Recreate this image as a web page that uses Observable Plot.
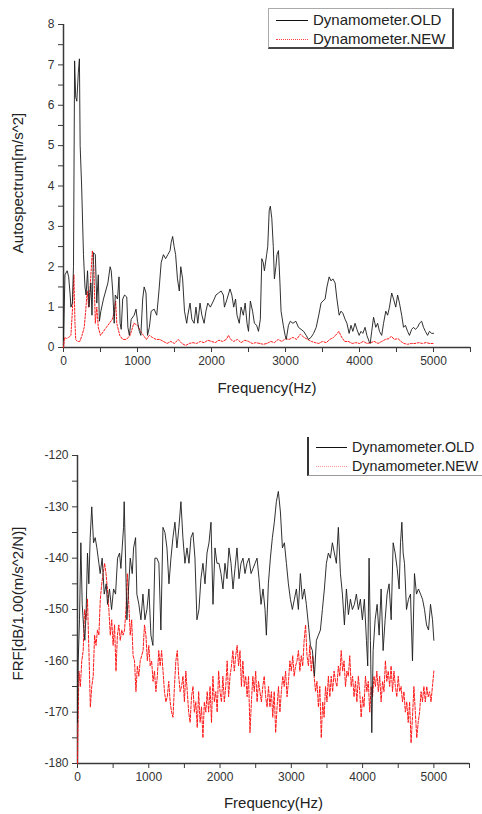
<!DOCTYPE html>
<html><head><meta charset="utf-8">
<script src="https://cdn.jsdelivr.net/npm/d3@7"></script>
<script src="https://cdn.jsdelivr.net/npm/@observablehq/plot@0.6"></script>
<style>
body{margin:0;background:#fff;font-family:"Liberation Sans",Arial,sans-serif;}
#wrap{position:relative;width:482px;height:814px;overflow:hidden;background:#fff;}
#c1{position:absolute;left:0;top:0;}
#c2{position:absolute;left:0;top:400px;}
.box{position:absolute;box-sizing:border-box;}
.smp{position:absolute;height:0;}
.lt{position:absolute;font-size:15px;line-height:18px;color:#222;white-space:nowrap;}
.lt2{font-size:14.3px;}
</style></head><body>
<div id="wrap"><div id="c1"></div><div id="c2"></div>
<div class="box" style="left:268px;top:8px;width:186px;height:41px;border:1px solid #aaa;border-right:2px solid #444;border-bottom:2px solid #444;"></div>
<div class="smp" style="left:276px;top:20px;width:32px;border-top:1.5px solid #111;"></div>
<div class="lt" id="l1a" style="left:313px;top:11px;"></div>
<div class="smp" style="left:276px;top:39px;width:32px;border-top:1px dotted #f44;"></div>
<div class="lt" id="l1b" style="left:313px;top:30px;"></div>
<div class="box" style="left:307px;top:437px;width:200px;height:39px;border-left:2px solid #333;border-bottom:1px solid #999;"></div>
<div class="smp" style="left:316px;top:447px;width:31px;border-top:1.5px solid #111;"></div>
<div class="lt lt2" id="l2a" style="left:352px;top:438px;"></div>
<div class="smp" style="left:316px;top:466px;width:31px;border-top:1px dotted #f99;"></div>
<div class="lt lt2" id="l2b" style="left:352px;top:457px;"></div>
</div>
<script>
const seriesNames = ["Dynamometer.OLD", "Dynamometer.NEW"];
const xLabel = "Frequency(Hz)";
const yLabelTop = "Autospectrum[m/s^2]";
const yLabelBottom = "FRF[dB/1.00(m/s^2/N)]";
const xTicks = [0,500,1000,1500,2000,2500,3000,3500,4000,4500,5000,5500];
const xTickLabels = [0,1000,2000,3000,4000,5000];
const yTicksTop = [0,0.5,1,1.5,2,2.5,3,3.5,4,4.5,5,5.5,6,6.5,7,7.5,8];
const yTickLabelsTop = [0,1,2,3,4,5,6,7,8];
const yTicksBottom = [-180,-175,-170,-165,-160,-155,-150,-145,-140,-135,-130,-125,-120];
const yTickLabelsBottom = [-180,-170,-160,-150,-140,-130,-120];

// Autospectrum, OLD: [frequency Hz, value]
const spectrumOld = [[0,0.2],[20,1.8],[50,1.9],[70,1.75],[90,1.3],[100,1.0],[120,1.1],[135,2.0],[150,7.1],[165,6.2],[180,6.1],[200,6.8],[215,7.15],[225,5.0],[245,4.0],[270,2.3],[290,1.5],[305,1.3],[325,1.9],[345,1.0],[370,1.6],[385,0.8],[405,2.35],[430,2.3],[450,1.1],[470,1.8],[485,0.65],[505,0.9],[540,1.2],[570,1.4],[600,1.6],[630,2.0],[645,1.9],[665,1.4],[685,0.6],[700,1.3],[730,1.2],[750,1.75],[765,0.6],[780,0.45],[800,1.2],[825,1.3],[855,1.25],[870,0.5],[890,0.3],[915,0.7],[955,0.8],[980,0.95],[1000,0.65],[1025,0.4],[1045,0.3],[1070,1.2],[1090,1.5],[1115,1.35],[1135,0.3],[1160,0.5],[1185,0.9],[1225,0.95],[1260,0.8],[1290,1.4],[1320,2.1],[1350,2.3],[1380,2.2],[1410,2.3],[1440,2.4],[1455,2.6],[1475,2.75],[1495,2.5],[1515,2.3],[1540,1.7],[1565,1.4],[1585,2.0],[1610,1.7],[1635,0.9],[1665,0.6],[1680,0.8],[1710,1.1],[1735,0.7],[1765,0.6],[1790,1.0],[1815,0.6],[1845,1.1],[1870,0.8],[1900,0.6],[1925,0.9],[1950,1.1],[1985,1.0],[2025,1.15],[2060,1.3],[2095,1.35],[2130,1.4],[2160,1.3],[2175,1.0],[2210,1.2],[2250,1.45],[2275,1.3],[2300,1.0],[2325,1.2],[2345,0.8],[2375,0.6],[2400,1.0],[2430,0.8],[2455,1.1],[2480,0.6],[2500,0.4],[2525,1.15],[2555,0.9],[2580,0.6],[2610,0.55],[2635,0.4],[2660,0.7],[2680,2.2],[2700,2.1],[2715,1.9],[2745,2.3],[2760,2.5],[2780,3.4],[2795,3.5],[2815,3.2],[2835,2.5],[2850,1.7],[2870,2.0],[2885,2.3],[2905,2.4],[2925,1.6],[2940,0.9],[2970,0.55],[2995,0.3],[3010,0.2],[3040,0.55],[3065,0.65],[3100,0.6],[3140,0.65],[3175,0.5],[3210,0.45],[3245,0.4],[3280,0.3],[3310,0.2],[3345,0.25],[3380,0.35],[3415,0.5],[3455,0.85],[3480,1.1],[3505,1.15],[3535,1.2],[3560,1.5],[3590,1.75],[3615,1.65],[3640,1.7],[3670,1.6],[3695,1.2],[3725,0.8],[3750,0.9],[3775,0.85],[3805,0.7],[3830,0.6],[3860,0.35],[3885,0.55],[3910,0.4],[3940,0.6],[3965,0.45],[3995,0.3],[4020,0.4],[4045,0.35],[4075,0.5],[4100,0.3],[4130,0.15],[4145,0.1],[4165,0.4],[4190,0.75],[4220,0.5],[4245,0.6],[4270,0.4],[4300,0.3],[4325,0.6],[4355,0.9],[4380,0.8],[4405,1.0],[4435,1.35],[4460,1.2],[4490,1.0],[4515,1.3],[4540,1.1],[4570,0.8],[4595,0.5],[4620,0.55],[4650,0.4],[4675,0.3],[4705,0.45],[4730,0.5],[4755,0.45],[4785,0.5],[4810,0.6],[4840,0.65],[4865,0.5],[4890,0.4],[4920,0.3],[4945,0.4],[4975,0.35],[5000,0.35]];

// Autospectrum, NEW
const spectrumNew = [[0,0],[15,0.25],[40,0.22],[70,0.25],[100,0.3],[120,0.9],[140,1.8],[155,0.6],[165,0.2],[190,0.15],[220,0.15],[250,0.3],[280,0.5],[300,0.9],[320,1.4],[340,1.0],[360,1.5],[390,2.4],[410,2.0],[430,0.6],[450,1.0],[470,0.5],[500,0.3],[540,0.4],[580,0.5],[620,0.6],[660,0.7],[690,0.9],[705,1.15],[720,0.6],[760,0.3],[800,0.2],[850,0.2],[900,0.3],[950,0.6],[1000,0.55],[1040,0.4],[1080,0.3],[1120,0.2],[1160,0.3],[1200,0.25],[1250,0.2],[1300,0.2],[1350,0.15],[1400,0.1],[1450,0.15],[1500,0.1],[1550,0.2],[1600,0.1],[1650,0.05],[1700,0.1],[1750,0.12],[1800,0.1],[1850,0.15],[1900,0.12],[1950,0.18],[2000,0.15],[2050,0.12],[2100,0.18],[2150,0.15],[2200,0.2],[2230,0.3],[2260,0.2],[2300,0.15],[2350,0.2],[2400,0.12],[2450,0.18],[2500,0.15],[2550,0.1],[2600,0.12],[2650,0.1],[2700,0.08],[2750,0.1],[2800,0.15],[2850,0.12],[2900,0.2],[2950,0.15],[3000,0.22],[3050,0.2],[3100,0.25],[3150,0.2],[3200,0.33],[3250,0.25],[3300,0.2],[3350,0.15],[3400,0.12],[3450,0.1],[3500,0.15],[3550,0.12],[3600,0.2],[3650,0.25],[3700,0.35],[3720,0.4],[3760,0.25],[3800,0.15],[3850,0.15],[3900,0.1],[3950,0.12],[4000,0.1],[4050,0.15],[4100,0.1],[4150,0.12],[4200,0.15],[4250,0.1],[4300,0.15],[4350,0.2],[4400,0.22],[4430,0.28],[4470,0.2],[4520,0.22],[4560,0.15],[4600,0.1],[4650,0.08],[4700,0.1],[4750,0.1],[4800,0.12],[4850,0.1],[4900,0.12],[4950,0.1],[5000,0.1]];

// FRF, OLD
const frfOld = [[0,-172],[10,-160],[28,-152],[47,-137],[66,-149],[84,-153],[103,-156],[122,-150],[140,-139],[159,-145],[178,-136],[200,-130],[225,-137],[248,-136],[272,-138],[300,-141],[318,-143],[346,-140],[375,-147],[403,-145],[421,-149],[449,-146],[478,-150],[506,-146],[534,-147],[562,-140],[590,-139],[609,-142],[627,-138],[646,-134],[655,-129],[674,-140],[693,-152],[712,-147],[740,-140],[768,-143],[787,-138],[815,-136],[833,-147],[861,-149],[890,-152],[918,-147],[946,-152],[974,-150],[1002,-146],[1030,-155],[1058,-157],[1086,-140],[1114,-140],[1142,-141],[1170,-154],[1199,-134],[1227,-135],[1255,-138],[1283,-145],[1311,-140],[1339,-136],[1367,-133],[1395,-138],[1423,-134],[1451,-129],[1479,-136],[1507,-141],[1536,-138],[1564,-141],[1592,-136],[1620,-135],[1648,-140],[1676,-152],[1704,-150],[1732,-144],[1760,-141],[1789,-145],[1817,-139],[1845,-137],[1873,-133],[1901,-149],[1929,-138],[1957,-141],[1985,-141],[2013,-143],[2041,-146],[2069,-141],[2097,-144],[2125,-138],[2154,-141],[2182,-146],[2210,-142],[2238,-138],[2266,-144],[2294,-141],[2322,-140],[2350,-143],[2378,-141],[2406,-140],[2435,-143],[2463,-142],[2491,-141],[2519,-140],[2547,-144],[2575,-149],[2603,-146],[2631,-150],[2650,-155],[2678,-145],[2706,-140],[2734,-136],[2762,-133],[2790,-129],[2818,-127],[2847,-131],[2875,-138],[2903,-137],[2931,-141],[2959,-145],[2987,-148],[3015,-150],[3043,-148],[3071,-146],[3099,-150],[3127,-143],[3155,-148],[3183,-146],[3211,-149],[3240,-153],[3268,-157],[3296,-158],[3324,-163],[3352,-156],[3380,-155],[3408,-154],[3436,-150],[3464,-146],[3492,-141],[3520,-139],[3548,-140],[3576,-137],[3604,-139],[3632,-141],[3660,-134],[3689,-143],[3717,-147],[3745,-153],[3773,-146],[3801,-151],[3829,-148],[3857,-150],[3885,-149],[3913,-147],[3941,-150],[3969,-148],[3997,-152],[4025,-148],[4054,-156],[4072,-161],[4091,-140],[4110,-156],[4129,-174],[4148,-158],[4176,-152],[4204,-149],[4232,-155],[4260,-146],[4288,-158],[4316,-152],[4344,-147],[4372,-145],[4401,-152],[4429,-137],[4457,-139],[4485,-142],[4513,-146],[4532,-137],[4551,-133],[4569,-139],[4588,-141],[4616,-150],[4644,-148],[4672,-147],[4700,-160],[4728,-143],[4756,-147],[4784,-146],[4813,-147],[4841,-148],[4869,-150],[4897,-153],[4925,-154],[4953,-149],[4981,-152],[5000,-156]];

// FRF, NEW
const frfNew = [[0,-180],[10,-170],[20,-162],[40,-165],[60,-160],[80,-158],[100,-150],[120,-152],[140,-148],[160,-158],[180,-169],[200,-165],[220,-163],[240,-155],[260,-157],[280,-154],[300,-155],[320,-148],[340,-145],[360,-143],[380,-141],[400,-143],[420,-146],[440,-150],[460,-155],[480,-152],[500,-157],[520,-153],[540,-162],[560,-155],[580,-153],[600,-156],[620,-154],[640,-155],[660,-154],[680,-150],[700,-143],[720,-149],[740,-155],[760,-152],[780,-159],[800,-160],[820,-166],[840,-161],[860,-163],[880,-160],[900,-159],[920,-158],[940,-153],[960,-155],[980,-160],[1000,-157],[1020,-161],[1040,-160],[1060,-164],[1080,-162],[1100,-166],[1120,-163],[1140,-158],[1160,-161],[1180,-158],[1200,-162],[1220,-166],[1240,-168],[1260,-167],[1280,-164],[1300,-168],[1320,-170],[1340,-171],[1360,-165],[1380,-160],[1400,-158],[1420,-163],[1440,-166],[1460,-165],[1480,-163],[1500,-168],[1520,-162],[1540,-166],[1560,-170],[1580,-172],[1600,-167],[1620,-165],[1640,-170],[1660,-168],[1680,-173],[1700,-166],[1720,-172],[1740,-169],[1760,-175],[1780,-168],[1800,-170],[1820,-166],[1840,-170],[1860,-165],[1880,-172],[1900,-163],[1920,-168],[1940,-166],[1960,-170],[1980,-162],[2000,-166],[2020,-168],[2040,-163],[2060,-168],[2080,-165],[2100,-160],[2120,-167],[2140,-163],[2160,-161],[2180,-158],[2200,-162],[2220,-159],[2240,-157],[2260,-161],[2280,-158],[2300,-165],[2320,-160],[2340,-165],[2360,-163],[2380,-167],[2400,-163],[2420,-174],[2440,-168],[2460,-163],[2480,-166],[2500,-162],[2520,-168],[2540,-164],[2560,-166],[2580,-168],[2600,-165],[2620,-163],[2640,-167],[2660,-169],[2680,-165],[2700,-169],[2720,-166],[2740,-171],[2760,-166],[2780,-174],[2800,-169],[2820,-165],[2840,-170],[2860,-166],[2880,-163],[2900,-165],[2920,-162],[2940,-167],[2960,-164],[2980,-160],[3000,-162],[3020,-159],[3040,-163],[3060,-161],[3080,-160],[3100,-158],[3120,-162],[3140,-159],[3160,-161],[3180,-156],[3200,-153],[3220,-159],[3240,-161],[3260,-157],[3280,-162],[3300,-159],[3320,-163],[3340,-166],[3360,-164],[3380,-169],[3400,-165],[3420,-175],[3440,-168],[3460,-171],[3480,-165],[3500,-168],[3520,-163],[3540,-167],[3560,-163],[3580,-166],[3600,-162],[3620,-164],[3640,-165],[3660,-161],[3680,-163],[3700,-158],[3720,-162],[3740,-160],[3760,-165],[3780,-162],[3800,-163],[3820,-159],[3840,-165],[3860,-163],[3880,-167],[3900,-164],[3920,-168],[3940,-163],[3960,-166],[3980,-171],[4000,-167],[4020,-169],[4040,-163],[4060,-166],[4080,-164],[4100,-170],[4120,-165],[4140,-167],[4160,-163],[4180,-165],[4200,-162],[4220,-166],[4240,-163],[4260,-168],[4280,-164],[4300,-166],[4320,-160],[4340,-164],[4360,-162],[4380,-165],[4400,-161],[4420,-166],[4440,-162],[4460,-165],[4480,-167],[4500,-163],[4520,-166],[4540,-165],[4560,-168],[4580,-166],[4600,-170],[4620,-168],[4640,-172],[4660,-168],[4680,-176],[4700,-171],[4720,-165],[4740,-170],[4760,-175],[4780,-172],[4800,-170],[4820,-166],[4840,-168],[4860,-165],[4880,-168],[4900,-165],[4920,-167],[4940,-166],[4960,-168],[4980,-165],[5000,-162]];

const axisColor = "#3a3a3a";
const font = "'Liberation Sans', Arial, sans-serif";

function makeChart(o) {
  return Plot.plot({
    width: 482, height: o.height,
    marginLeft: o.ml, marginRight: o.mr, marginTop: o.mt, marginBottom: o.mb,
    x: {domain: [0, 5500]},
    y: {domain: o.yDomain},
    style: {fontFamily: font, fontSize: "12px", color: "#333", background: "transparent", overflow: "visible"},
    marks: [
      Plot.axisX({ticks: xTicks, tickFormat: d => xTickLabels.includes(d) ? String(d) : "", tickSize: 5, tickPadding: 4, label: null, stroke: axisColor}),
      Plot.axisY({ticks: o.yTicks, tickFormat: d => o.yTickLabels.includes(d) ? String(d) : "", tickSize: 5, tickPadding: 4, label: null, stroke: axisColor}),
      Plot.ruleX([0], {stroke: axisColor, strokeWidth: 1.5}),
      Plot.ruleY([o.yDomain[0]], {stroke: axisColor, strokeWidth: 1.5}),
      Plot.line(o.newData, {x: d => d[0], y: d => d[1], stroke: "#ff1a1a", strokeWidth: 1, strokeDasharray: o.dash}),
      Plot.line(o.oldData, {x: d => d[0], y: d => d[1], stroke: "#1a1a1a", strokeWidth: 0.9}),
      Plot.text([xLabel], {text: d => d, frameAnchor: "bottom", textAnchor: "middle", lineAnchor: "middle", dy: o.xlDy, fontSize: 15, fill: "#222"}),
      Plot.text([o.yLabel], {text: d => d, frameAnchor: "left", textAnchor: "middle", lineAnchor: "middle", dx: o.ylDx, dy: o.ylDy, rotate: -90, fontSize: 15, fill: "#222"})
    ]
  });
}

document.getElementById("c1").appendChild(makeChart({
  height: 400, ml: 63, mr: 12, mt: 24, mb: 53, yDomain: [0, 8],
  yTicks: yTicksTop, yTickLabels: yTickLabelsTop,
  oldData: spectrumOld, newData: spectrumNew, dash: "2,1.5",
  yLabel: yLabelTop, xlDy: 41, ylDx: -45, ylDy: -3
}));
document.getElementById("c2").appendChild(makeChart({
  height: 414, ml: 77, mr: 13, mt: 55, mb: 51, yDomain: [-180, -120],
  yTicks: yTicksBottom, yTickLabels: yTickLabelsBottom,
  oldData: frfOld, newData: frfNew, dash: "3,1.5",
  yLabel: yLabelBottom, xlDy: 40, ylDx: -59, ylDy: -6
}));
document.getElementById("l1a").textContent = seriesNames[0];
document.getElementById("l1b").textContent = seriesNames[1];
document.getElementById("l2a").textContent = seriesNames[0];
document.getElementById("l2b").textContent = seriesNames[1];
</script>
</body></html>
